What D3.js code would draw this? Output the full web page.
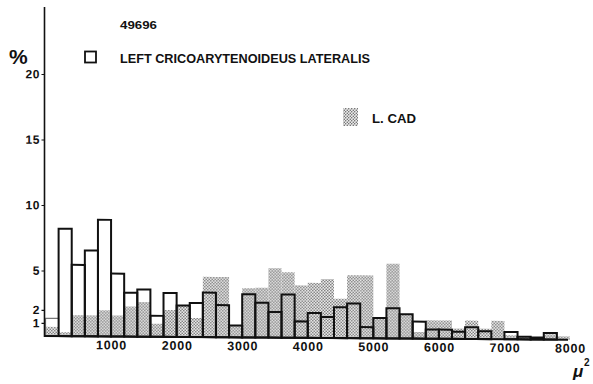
<!DOCTYPE html>
<html>
<head>
<meta charset="utf-8">
<script src="https://cdn.jsdelivr.net/npm/d3@7"></script>
<style>
  body { margin: 0; background: #fff; }
  svg { display: block; }
  text { font-family: "Liberation Sans", Arial, sans-serif; font-weight: bold; fill: #111; }
</style>
</head>
<body>
<svg id="chart" width="593" height="384"></svg>
<script>
// Fibre cross-section area classes (µ², lower edge of each 200 µ² class)
const binStarts = [0, 200, 400, 600, 800, 1000, 1200, 1400, 1600, 1800,
                   2000, 2200, 2400, 2600, 2800, 3000, 3200, 3400, 3600, 3800,
                   4000, 4200, 4400, 4600, 4800, 5000, 5200, 5400, 5600, 5800,
                   6000, 6200, 6400, 6600, 6800, 7000, 7200, 7400, 7600, 7800];
const binWidth = 200;

// % of fibres per class, left cricoarytenoideus lateralis (open bars)
const lateralis = [1.35, 8.2, 5.45, 6.55, 8.9, 4.8, 3.35, 3.6, 1.6, 3.35,
                   2.4, 2.6, 3.4, 2.45, 0.9, 3.3, 2.65, 1.95, 3.3, 1.25,
                   1.9, 1.6, 2.35, 2.65, 0.85, 1.55, 2.3, 1.85, 1.3, 0.7,
                   0.7, 0.55, 0.9, 0.6, 0, 0.55, 0.2, 0.15, 0.5, 0];

// % of fibres per class, L. CAD (stippled bars)
const lcad = [0.7, 0.3, 1.6, 1.6, 2.0, 1.6, 2.3, 2.65, 1.0, 2.05,
              2.4, 1.45, 4.6, 4.6, 0.9, 3.75, 3.8, 5.3, 5.0, 4.0,
              4.2, 4.5, 3.0, 4.8, 4.8, 1.55, 5.7, 1.85, 0.5, 1.4,
              1.4, 0.8, 1.4, 0.8, 1.4, 0.3, 0.2, 0.1, 0.4, 0.25];

const yTicks = [1, 2, 5, 10, 15, 20];
const xTicks = [1000, 2000, 3000, 4000, 5000, 6000, 7000, 8000];

const specimen = "49696";
const seriesNames = ["LEFT CRICOARYTENOIDEUS LATERALIS", "L. CAD"];

const svg = d3.select("#chart");

// halftone dot fill for the L. CAD series
const defs = svg.append("defs");
const pat = defs.append("pattern")
  .attr("id", "stipple").attr("patternUnits", "userSpaceOnUse")
  .attr("width", 3).attr("height", 3);
pat.append("rect").attr("width", 3).attr("height", 3).attr("fill", "#ececec");
pat.append("circle").attr("cx", 0.75).attr("cy", 0.75).attr("r", 0.7).attr("fill", "#555");
pat.append("circle").attr("cx", 2.25).attr("cy", 2.25).attr("r", 0.7).attr("fill", "#555");

const x = d3.scaleLinear().domain([0, 8000]).range([45.5, 570]);
const y = d3.scaleLinear().domain([0, 20]).range([336, 74]);

// the printed baseline runs slightly downhill to the right
const k = 0.007;
const plot = svg.append("g")
  .attr("transform", `matrix(1, ${k}, 0, 1, 0, ${-k * 44})`);

// stippled L. CAD bars
plot.append("g").selectAll("rect")
  .data(binStarts.map((b, i) => ({ b, v: lcad[i] })).filter(d => d.v > 0))
  .join("rect")
  .attr("x", d => x(d.b))
  .attr("y", d => y(d.v))
  .attr("width", d => x(d.b + binWidth) - x(d.b))
  .attr("height", d => y(0) - y(d.v))
  .attr("fill", "url(#stipple)");

// open lateralis bars
plot.append("g").selectAll("rect")
  .data(binStarts.map((b, i) => ({ b, v: lateralis[i], i })).filter(d => d.v > 0))
  .join("rect")
  .attr("x", d => x(d.b))
  .attr("y", d => y(d.v))
  .attr("width", d => x(d.b + binWidth) - x(d.b))
  .attr("height", d => y(0) - y(d.v))
  .attr("fill", "none")
  .attr("stroke", d => d.i === 0 ? "#777" : "#111")
  .attr("stroke-width", d => d.i === 0 ? 1.2 : 2);

// baseline
plot.append("line")
  .attr("x1", x(0) - 1).attr("x2", x(8000) - 2)
  .attr("y1", y(0)).attr("y2", y(0))
  .attr("stroke", "#111").attr("stroke-width", 2);

// y axis
const yAxis = plot.append("g")
  .attr("transform", "translate(44.5,0)")
  .call(d3.axisLeft(y).tickValues(yTicks).tickSize(3).tickPadding(1.5).tickSizeOuter(0));
yAxis.select(".domain").remove();
yAxis.selectAll("line").attr("stroke", "#111").attr("stroke-width", 1.2);
yAxis.selectAll("text")
  .attr("font-size", 12).attr("letter-spacing", 0.6)
  .attr("font-family", "Liberation Sans, Arial, sans-serif");
plot.append("line")
  .attr("x1", 44.5).attr("x2", 44.5)
  .attr("y1", 7).attr("y2", y(0) + 1)
  .attr("stroke", "#111").attr("stroke-width", 1.6);

// x axis labels
const xAxis = plot.append("g")
  .attr("transform", `translate(0,${y(0) + 2})`)
  .call(d3.axisBottom(x).tickValues(xTicks).tickSize(0).tickPadding(2).tickFormat(d3.format("d")));
xAxis.select(".domain").remove();
xAxis.selectAll("text")
  .attr("font-size", 12.5).attr("letter-spacing", 0.8)
  .attr("font-family", "Liberation Sans, Arial, sans-serif");

// axis units
svg.append("text").attr("x", 9).attr("y", 64)
  .attr("font-size", 21).attr("font-weight", "normal").text("%");
svg.append("text").attr("x", 573).attr("y", 377)
  .attr("font-size", 17).attr("font-weight", "normal").attr("font-style", "italic").text("\u03bc");
svg.append("text").attr("x", 584).attr("y", 366)
  .attr("font-size", 10).text("2");

// header and legend
svg.append("text").attr("x", 120).attr("y", 29)
  .attr("font-size", 11).attr("textLength", 37).attr("lengthAdjust", "spacingAndGlyphs")
  .text(specimen);
svg.append("rect").attr("x", 85).attr("y", 51.5).attr("width", 11).attr("height", 11)
  .attr("fill", "none").attr("stroke", "#111").attr("stroke-width", 1.8);
svg.append("text").attr("x", 120).attr("y", 62.5)
  .attr("font-size", 12).attr("textLength", 250).attr("lengthAdjust", "spacingAndGlyphs")
  .text(seriesNames[0]);
svg.append("rect").attr("x", 343).attr("y", 108).attr("width", 15).attr("height", 18)
  .attr("fill", "url(#stipple)");
svg.append("text").attr("x", 372).attr("y", 123)
  .attr("font-size", 13.5).attr("textLength", 44).attr("lengthAdjust", "spacingAndGlyphs")
  .text(seriesNames[1]);
</script>
</body>
</html>
